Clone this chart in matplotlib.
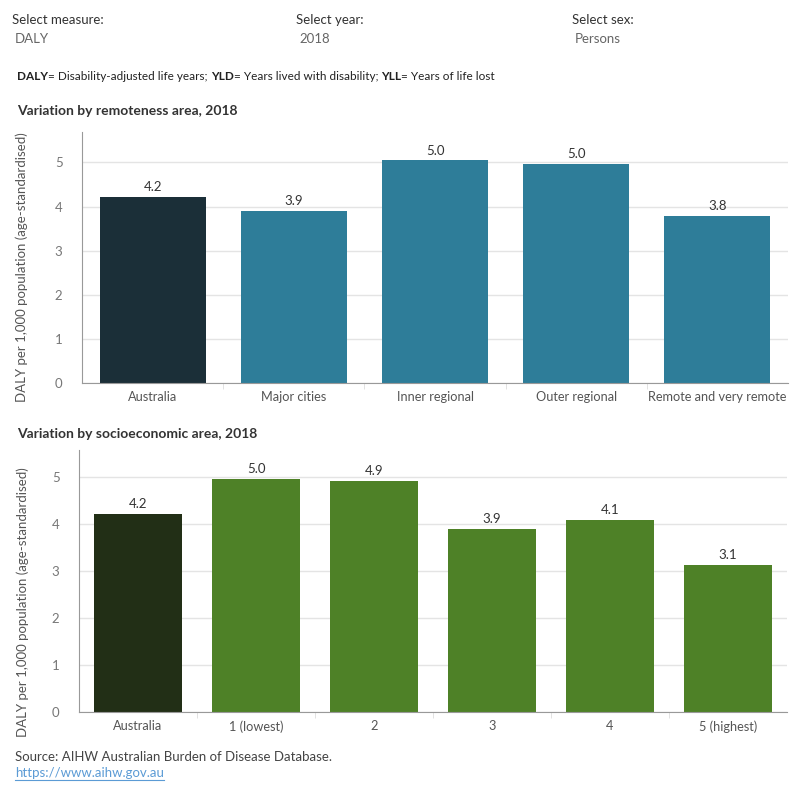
import matplotlib
matplotlib.use("Agg")
import matplotlib.pyplot as plt
from matplotlib.lines import Line2D

plt.rcParams['font.family'] = ['Lato', 'DejaVu Sans']

# data
remote_cats = ['Australia', 'Major cities', 'Inner regional', 'Outer regional', 'Remote and very remote']
remote_vals = [4.22, 3.90, 5.05, 4.97, 3.79]
remote_labels = ['4.2', '3.9', '5.0', '5.0', '3.8']

ses_cats = ['Australia', '1 (lowest)', '2', '3', '4', '5 (highest)']
ses_vals = [4.22, 4.97, 4.92, 3.90, 4.09, 3.13]
ses_labels = ['4.2', '5.0', '4.9', '3.9', '4.1', '3.1']

yticks = [0, 1, 2, 3, 4, 5]
ylabel = 'DALY per 1,000 population (age-standardised)'

fig = plt.figure(figsize=(8, 8), dpi=100)


def px(x, y):
    return x / 800, 1 - y / 800


def seq_text(x, y, parts, size=8.5):
    # draw text pieces one after another, some bold
    fig.canvas.draw()
    r = fig.canvas.get_renderer()
    cx = x
    for s, w in parts:
        t = fig.text(cx / 800, 1 - y / 800, s, fontsize=size, fontweight=w,
                     color='#222222', va='center', ha='left')
        bb = t.get_window_extent(renderer=r)
        cx += bb.width


def bar_panel(rect, cats, vals, labels, colors, ymax):
    ax = fig.add_axes(rect)
    xs = range(len(cats))
    bars = ax.bar(xs, vals, width=0.75, color=colors, zorder=2)
    for b, lab in zip(bars, labels):
        ax.text(b.get_x() + b.get_width() / 2, b.get_height() + 0.08, lab,
                ha='center', va='bottom', fontsize=9.5, color='#333333')
    ax.set_xlim(-0.5, len(cats) - 0.5)
    ax.set_ylim(0, ymax)
    ax.set_yticks(yticks)
    ax.set_xticks(list(xs))
    ax.set_xticklabels(cats)
    ax.set_xticks([i - 0.5 for i in range(1, len(cats))], minor=True)
    ax.tick_params(axis='x', which='minor', length=4, color='#dddddd')
    ax.tick_params(axis='x', which='major', length=0, pad=6, labelsize=9.2, labelcolor='#555555')
    ax.tick_params(axis='y', length=0, pad=14, labelsize=9.5, labelcolor='#777777')
    ax.grid(axis='y', color='#e4e4e4', linewidth=1, zorder=0)
    for s in ['top', 'right']:
        ax.spines[s].set_visible(False)
    ax.spines['left'].set_color('#999999')
    ax.spines['bottom'].set_color('#999999')
    ax.set_ylabel(ylabel, fontsize=9.5, color='#555555')
    return ax


ax1 = bar_panel([82 / 800, 0.52125, 706 / 800, 0.31375], remote_cats, remote_vals, remote_labels,
                ['#1b2f38'] + ['#2e7d99'] * 4, 5.69)
ax1.yaxis.set_label_coords(-0.076, 0.46)

ax2 = bar_panel([79 / 800, 0.11, 708 / 800, 0.3275], ses_cats, ses_vals, ses_labels,
                ['#222f16'] + ['#4e8127'] * 5, 5.58)
ax2.yaxis.set_label_coords(-0.071, 0.42)

# filter header
for x, lab, val in [(12, 'Select measure:', 'DALY'), (296, 'Select year:', '2018'), (572, 'Select sex:', 'Persons')]:
    fig.text(*px(x, 20), lab, fontsize=9.5, color='#333333', va='center')
    fig.text(*px(x + 3, 39), val, fontsize=9.5, color='#666666', va='center')

seq_text(17, 77, [('DALY', 'bold'), ('= Disability-adjusted life years; ', 'normal'),
                  ('YLD', 'bold'), ('= Years lived with disability; ', 'normal'),
                  ('YLL', 'bold'), ('= Years of life lost', 'normal')])

fig.text(*px(17, 111), 'Variation by remoteness area, 2018', fontsize=10, fontweight='bold',
         color='#333333', va='center')
fig.text(*px(17, 434), 'Variation by socioeconomic area, 2018', fontsize=10, fontweight='bold',
         color='#333333', va='center')

fig.text(*px(15, 757), 'Source: AIHW Australian Burden of Disease Database.', fontsize=9.5,
         color='#444444', va='center')
url = fig.text(*px(15, 773), 'https://www.aihw.gov.au', fontsize=9.5, color='#5b9bd5', va='center')
fig.canvas.draw()
bb = url.get_window_extent(renderer=fig.canvas.get_renderer())
fig.add_artist(Line2D([bb.x0 / 800, bb.x1 / 800], [(bb.y0 - 1) / 800] * 2,
                      color='#5b9bd5', linewidth=0.8, transform=fig.transFigure))

fig.savefig('out.png', dpi=100)
